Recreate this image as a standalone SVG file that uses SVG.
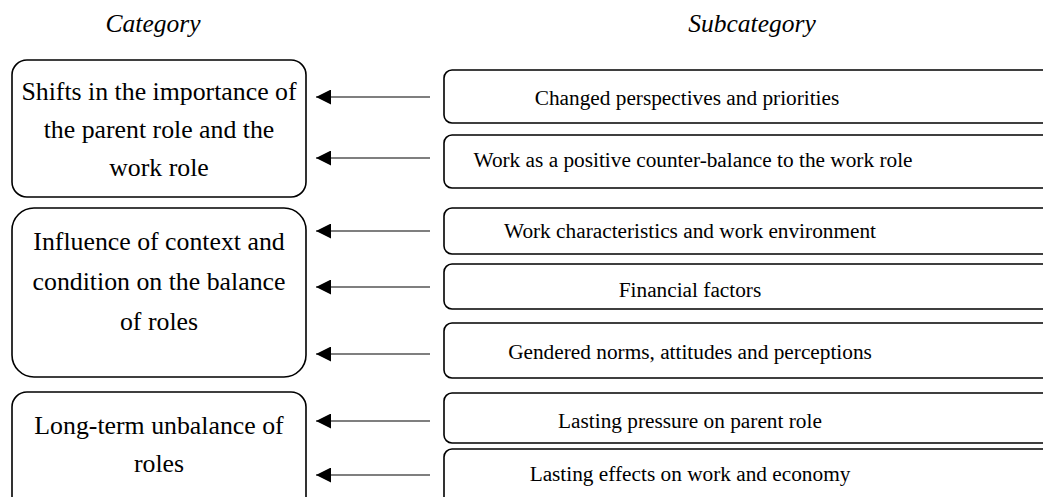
<svg xmlns="http://www.w3.org/2000/svg" width="1043" height="497" viewBox="0 0 1043 497">
<style>
.box{fill:#fff;stroke:#000;stroke-width:1.6}
.t{font-family:"Liberation Serif","Times New Roman",serif;font-size:25.8px;fill:#000;text-anchor:middle}
.s{font-family:"Liberation Serif","Times New Roman",serif;font-size:21.3px;fill:#000;text-anchor:middle}
.h{font-family:"Liberation Serif","Times New Roman",serif;font-size:25.5px;font-style:italic;fill:#000;text-anchor:middle}
.c{stroke:#000;stroke-width:1.2;fill:none;marker-end:url(#ah)}
</style>
<defs>
<marker id="ah" viewBox="0 0 10 10" refX="10" refY="5" markerWidth="15" markerHeight="15" markerUnits="userSpaceOnUse" orient="auto">
<path d="M0,0 L10,5 L0,10 z" fill="#000"/>
</marker>
</defs>
<rect width="1043" height="497" fill="#fff"/>
<text class="h" x="153" y="32">Category</text>
<text class="h" x="752" y="32">Subcategory</text>
<g id="cat1">
<rect class="box" x="12" y="60" width="294" height="137" rx="15"/>
<text class="t" x="159" y="100">Shifts in the importance of</text>
<text class="t" x="159" y="138">the parent role and the</text>
<text class="t" x="159" y="176">work role</text>
</g>
<g id="cat2">
<rect class="box" x="12" y="208" width="294" height="169" rx="22"/>
<text class="t" x="159" y="250">Influence of context and</text>
<text class="t" x="159" y="290">condition on the balance</text>
<text class="t" x="159" y="330">of roles</text>
</g>
<g id="cat3">
<rect class="box" x="12" y="392" width="294" height="130" rx="15"/>
<text class="t" x="159" y="434">Long-term unbalance of</text>
<text class="t" x="159" y="472">roles</text>
</g>
<g id="sub1">
<rect class="box" x="444" y="70" width="620" height="53" rx="8"/>
<text class="s" x="687" y="105">Changed perspectives and priorities</text>
</g>
<g id="sub2">
<rect class="box" x="444" y="135" width="620" height="53" rx="8"/>
<text class="s" x="693" y="167">Work as a positive counter-balance to the work role</text>
</g>
<g id="sub3">
<rect class="box" x="444" y="208" width="620" height="46" rx="8"/>
<text class="s" x="690" y="238">Work characteristics and work environment</text>
</g>
<g id="sub4">
<rect class="box" x="444" y="264" width="620" height="45" rx="8"/>
<text class="s" x="690" y="297">Financial factors</text>
</g>
<g id="sub5">
<rect class="box" x="444" y="323" width="620" height="55" rx="8"/>
<text class="s" x="690" y="359">Gendered norms, attitudes and perceptions</text>
</g>
<g id="sub6">
<rect class="box" x="444" y="393" width="620" height="50" rx="8"/>
<text class="s" x="690" y="428">Lasting pressure on parent role</text>
</g>
<g id="sub7">
<rect class="box" x="444" y="449" width="620" height="70" rx="8"/>
<text class="s" x="690" y="481">Lasting effects on work and economy</text>
</g>
<g id="connectors">
<line class="c" x1="430" y1="97" x2="316" y2="97"/>
<line class="c" x1="430" y1="158" x2="316" y2="158"/>
<line class="c" x1="430" y1="231" x2="316" y2="231"/>
<line class="c" x1="430" y1="287" x2="316" y2="287"/>
<line class="c" x1="430" y1="354" x2="316" y2="354"/>
<line class="c" x1="430" y1="421" x2="316" y2="421"/>
<line class="c" x1="430" y1="475" x2="316" y2="475"/>
</g>
</svg>
